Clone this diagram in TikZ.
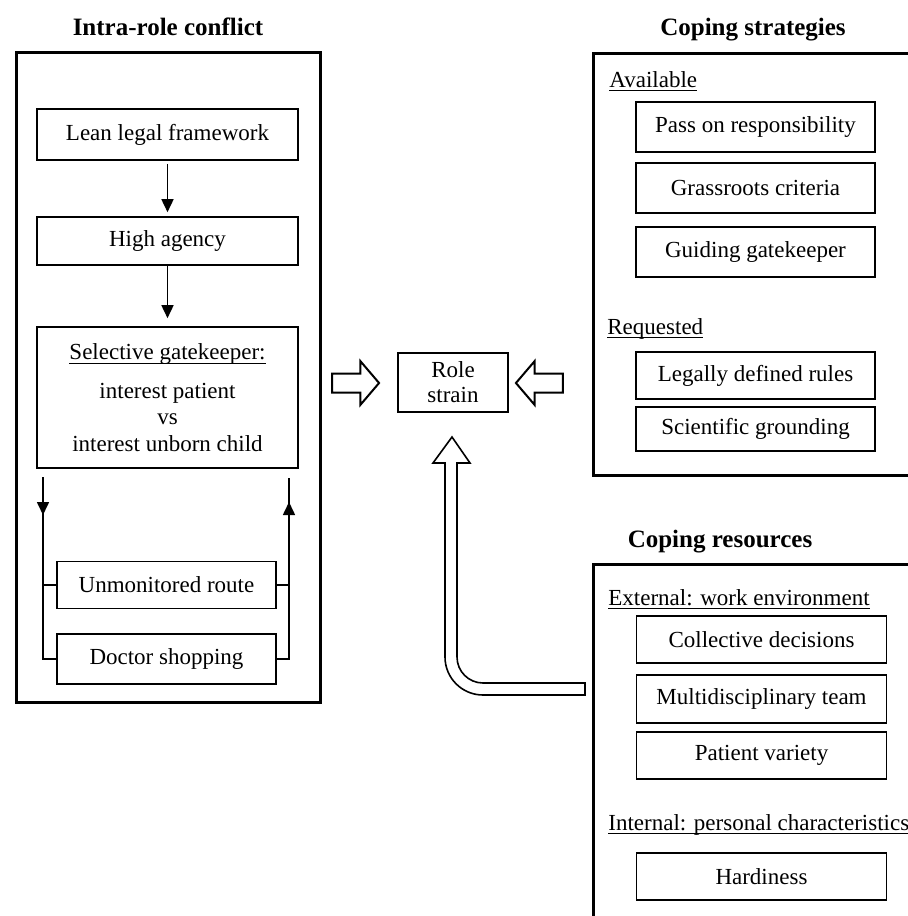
\documentclass[tikz,border=0pt]{standalone}
\usepackage{fontspec}
\setmainfont{Liberation Serif}
\usepackage{tikz}
\usetikzlibrary{arrows.meta}
\usetikzlibrary{positioning}
\usetikzlibrary{shapes.arrows}

\newlength{\ulwidth}
\newcommand{\ulabel}[1]{\settowidth{\ulwidth}{#1}\rlap{\rule[-2.2pt]{\ulwidth}{0.55pt}}#1}

\begin{document}
\begin{tikzpicture}[x=0.5pt,y=-0.5pt,>={Triangle[width=6pt,length=6.5pt]},
  font=\fontsize{11.5}{13.25}\selectfont,
  item/.style={draw,line width=0.8pt,inner sep=2pt,align=center},
  left item/.style={item,minimum width=130.5pt,minimum height=24pt},
  strat item/.style={item,minimum width=119.5pt,minimum height=24pt},
  res item/.style={item,minimum width=125pt,minimum height=23.5pt},
  panel/.style={line width=1.5pt},
  title/.style={font=\fontsize{12.5}{15}\selectfont\bfseries},
  sublabel/.style={anchor=base west,inner sep=0pt},
  link/.style={->,line width=0.8pt},
  thin link/.style={line width=0.8pt},
  hollow/.style={single arrow,draw,line width=1pt,inner xsep=0pt,inner ysep=4.25pt,
    minimum height=23.5pt,single arrow head extend=6.25pt,single arrow tip angle=99}]

  \useasboundingbox (0,0) rectangle (908,916);

  % intra-role conflict
  \node[title] (conflict) at (168,27) {Intra-role conflict};
  \draw[panel] (16,52) rectangle (320,702);

  \node[left item,minimum height=25.5pt] (lean) at (167.5,134.5) {Lean legal framework};
  \node[left item] (agency) at (167.5,241) {High agency};
  \node[left item,minimum height=70.5pt] (select) at (167.5,397.5)
    {\ulabel{Selective gatekeeper:}\\[6pt] interest patient\\ vs\\ interest unborn child};
  \node[left item,minimum width=109.5pt,minimum height=23.5pt] (unmon) at (166.5,585) {Unmonitored route};
  \node[left item,minimum width=109.5pt,minimum height=25pt] (shop) at (166.5,659) {Doctor shopping};

  \draw[link,shorten <=1.5pt,shorten >=2pt] (lean) -- (agency);
  \draw[link,shorten >=4pt] (agency) -- (select);

  \coordinate (down) at (43,477);
  \coordinate (up) at (289,478);
  \draw[thin link] (down) |- (shop.west);
  \draw[thin link] (down |- unmon.west) -- (unmon.west);
  \draw[link] (down) -- (43,515);
  \draw[thin link] (shop.east) -| (up);
  \draw[thin link] (unmon.east) -- (unmon.east -| up);
  \draw[link] (289,530) -- (289,502);

  % role strain
  \node[item,minimum width=55pt,minimum height=29.5pt,font=\fontsize{11.5}{12.5}\selectfont]
    (strain) at (453,382.5) {Role\\ strain};
  \node[hollow] (arrowconflict) at (351.5,383) {};
  \node[hollow,shape border rotate=180] (arrowstrategies) at (543.5,383) {};

  % coping strategies
  \node[title] (strategies) at (753,30) {Coping strategies};
  \draw[panel] (915,53) -| (593,475) -- (915,475);

  \node[sublabel] (avail) at (609,87) {\ulabel{Available}};
  \node[strat item,minimum height=25pt] (pass) at (755.5,127) {Pass on responsibility};
  \node[strat item,minimum height=25pt] (grass) at (755.5,188) {Grassroots criteria};
  \node[strat item,minimum height=25pt] (guide) at (755.5,252) {Guiding gatekeeper};
  \node[sublabel] (req) at (607,334) {\ulabel{Requested}};
  \node[strat item,minimum height=23.5pt] (legal) at (755.5,375.5) {Legally defined rules};
  \node[strat item,minimum height=22pt] (science) at (755.5,429) {Scientific grounding};

  % coping resources
  \node[title] (resources) at (720,542) {Coping resources};
  \draw[panel] (915,564) -| (593,920);

  \node[sublabel] (ext) at (608,605) {\ulabel{External: work environment}};
  \node[res item] (collect) at (761.5,639.5) {Collective decisions};
  \node[res item,minimum height=24pt] (multi) at (761.5,699) {Multidisciplinary team};
  \node[res item] (variety) at (761.5,755.5) {Patient variety};
  \node[sublabel] (int) at (608,830) {\ulabel{Internal: personal characteristics}};
  \node[res item] (hardy) at (761.5,876.5) {Hardiness};

  % resources to strain
  \draw[line width=0.8pt] (585,683) -- (483,683) arc (90:180:26) -- (457,463) -- (470,463)
    -- (452,437) -- (433,463) -- (445,463) -- (445,657) arc (180:90:38) -- (585,695) -- cycle;

\end{tikzpicture}
\end{document}
